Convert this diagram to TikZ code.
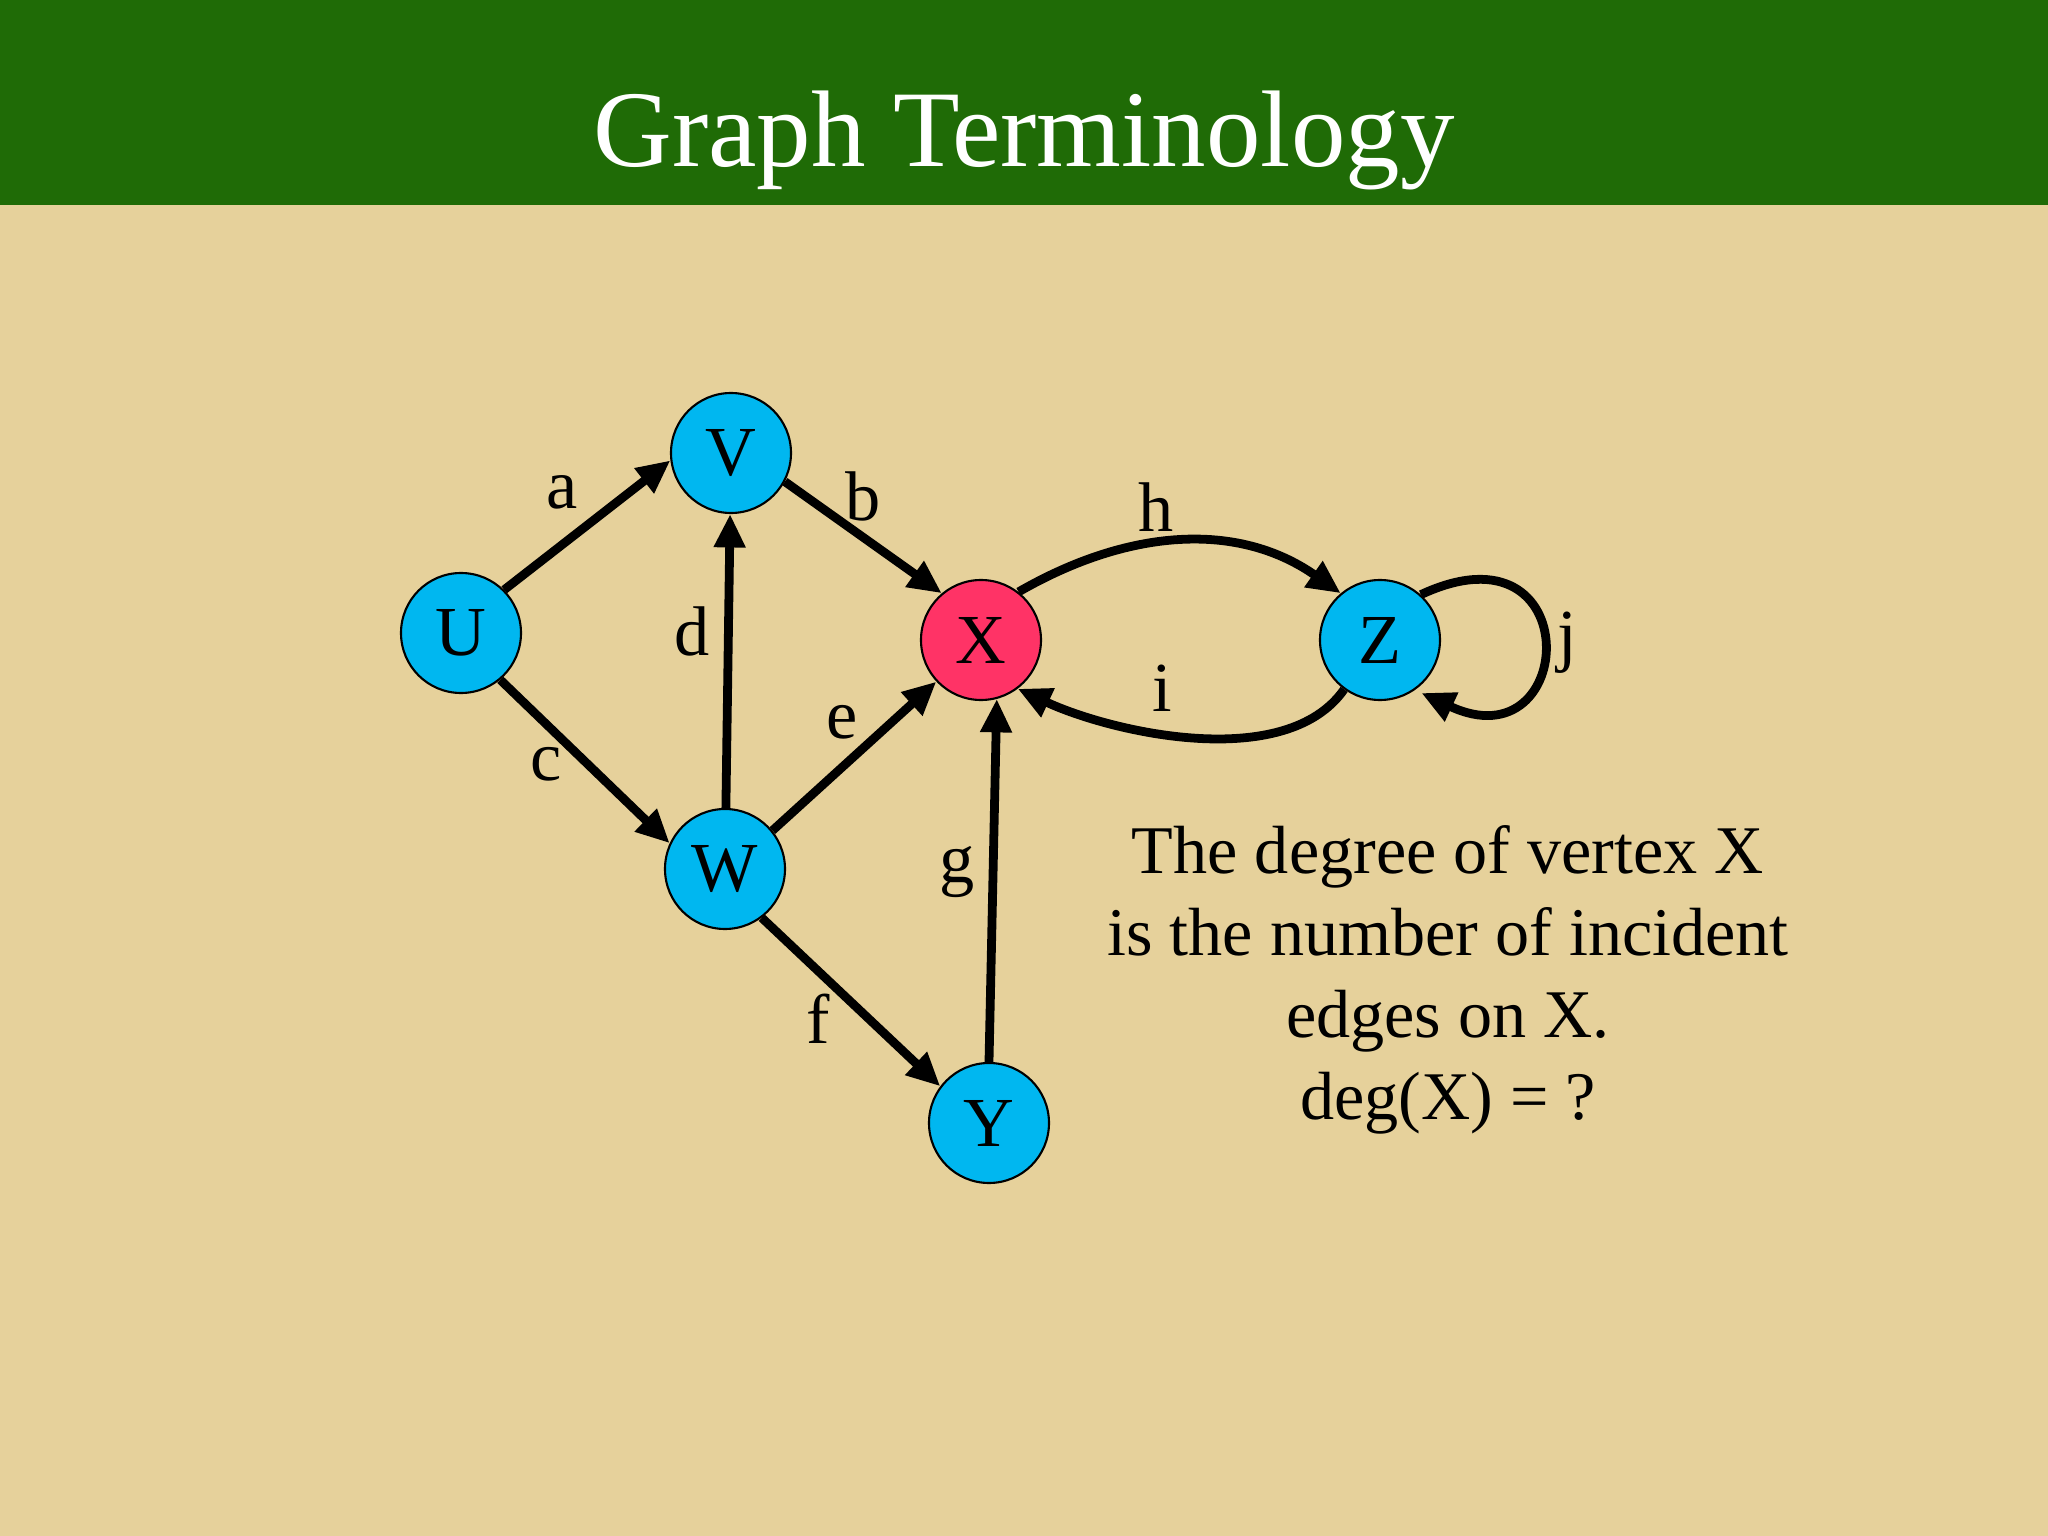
\documentclass[tikz,border=0pt]{standalone}
\usepackage{fontspec}
\setmainfont{Liberation Serif}
\usetikzlibrary{arrows.meta}
\definecolor{bannergreen}{RGB}{31,107,6}
\definecolor{slidesand}{RGB}{230,209,155}
\definecolor{vertexblue}{RGB}{0,183,240}
\definecolor{vertexred}{RGB}{255,51,102}

\begin{document}
\begin{tikzpicture}[
    vertex/.style={circle,draw=black,line width=0.6pt,fill=vertexblue,minimum size=1.2cm,inner sep=0pt,font=\fontsize{20}{24}\selectfont},
    edge/.style={line width=2.5pt,-{Triangle[length=9.5pt,width=8.5pt]}},
    elabel/.style={inner sep=0pt,font=\fontsize{20}{24}\selectfont}]
    \useasboundingbox (0,0) rectangle (20.48,-15.36);
    \fill[slidesand] (0,0) rectangle (20.48,-15.36);
    \fill[bannergreen] (0,0) rectangle (20.48,-2.05);
    \node[anchor=base,white,font=\fontsize{31}{37}\selectfont] (title) at (10.24,-1.67) {Graph Terminology};
    % vertices
    \node[vertex] (U) at (4.61,-6.33) {U};
    \node[vertex] (V) at (7.31,-4.53) {V};
    \node[vertex] (W) at (7.25,-8.69) {W};
    \node[vertex,fill=vertexred] (X) at (9.81,-6.40) {X};
    \node[vertex] (Y) at (9.89,-11.23) {Y};
    \node[vertex] (Z) at (13.80,-6.40) {Z};
    % edges
    \draw[edge] (U.45) -- (V.187);
    \draw[edge] (V.-28) -- (X.130);
    \draw[edge] (U.-50) -- (W.155);
    \draw[edge] (W) -- (V);
    \draw[edge] (W.39) -- (X.223);
    \draw[edge] (W.-53) -- (Y.143);
    \draw[edge] (Y.north) -- (X.-75);
    \draw[edge] (X.52) to[out=30,in=145] (Z.130);
    \draw[edge] (Z.234) to[out=235,in=-25,looseness=0.8] (X.-53);
    \draw[edge,shorten >=2pt] (Z.48) .. controls +(25:1.85) and +(-25:1.8) .. (Z.-55);
    \node[elabel] (la) at (5.62,-4.92) {a};
    \node[elabel] (lb) at (8.63,-4.96) {b};
    \node[elabel] (lc) at (5.46,-7.64) {c};
    \node[elabel] (ld) at (6.92,-6.31) {d};
    \node[elabel] (le) at (8.42,-7.22) {e};
    \node[elabel] (lf) at (8.18,-10.19) {f};
    \node[elabel] (lg) at (9.57,-8.72) {g};
    \node[elabel] (lh) at (11.56,-5.07) {h};
    \node[elabel] (li) at (11.62,-6.88) {i};
    \node[elabel] (lj) at (15.67,-6.43) {j};
    \node[anchor=base,align=center,font=\fontsize{19.4}{23.3}\selectfont] (degtext) at (14.48,-11.19)
     {The degree of vertex X\\is the number of incident\\edges on X.\\deg(X) = ?};
\end{tikzpicture}
\end{document}
